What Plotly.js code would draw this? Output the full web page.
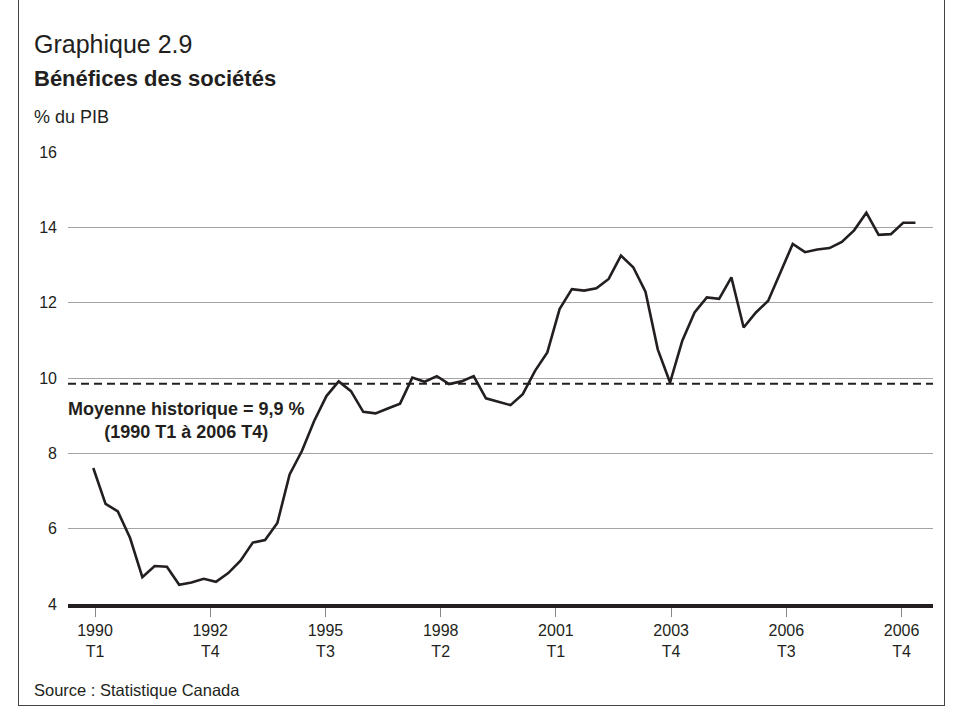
<!DOCTYPE html>
<html>
<head>
<meta charset="utf-8">
<script src="https://cdn.plot.ly/plotly-3.0.1.min.js"></script>
<style>
  html, body { margin: 0; padding: 0; background: #fff; }
  #frame { position: absolute; left: 18px; top: -2px; width: 927px; height: 708px; border: 1px solid #444; box-sizing: border-box; }
  #chart { position: absolute; left: 0; top: 0; width: 964px; height: 718px; }
</style>
</head>
<body>
<div id="frame"></div>
<div id="chart"></div>
<script>
// Corporate profits, % of GDP, quarterly, 1990 T1 onward
const values = [7.61, 6.66, 6.46, 5.75, 4.71, 5.01, 4.99, 4.51, 4.57, 4.67, 4.59, 4.82,
  5.15, 5.63, 5.70, 6.15, 7.44, 8.06, 8.86, 9.52, 9.91, 9.65, 9.10, 9.06,
  9.19, 9.32, 10.01, 9.90, 10.05, 9.84, 9.91, 10.05, 9.46, 9.37, 9.28,
  9.57, 10.19, 10.68, 11.83, 12.36, 12.32, 12.38, 12.63, 13.25, 12.94, 12.29,
  10.76, 9.88, 10.99, 11.74, 12.14, 12.10, 12.67, 11.34, 11.74, 12.05, 12.81, 13.56,
  13.34, 13.41, 13.45, 13.61, 13.92, 14.39, 13.80, 13.82, 14.12, 14.12];
const quarterIndex = values.map((_, i) => i);
const historicalAverage = 9.85;
const tickLabels = ["1990<br>T1", "1992<br>T4", "1995<br>T3", "1998<br>T2",
  "2001<br>T1", "2003<br>T4", "2006<br>T3", "2006<br>T4"];
const yTicks = [4, 6, 8, 10, 12, 14, 16];

const tickStart = 0.14, tickStep = 9.39;
const tickVals = tickLabels.map((_, k) => tickStart + k * tickStep);

const font = "'Liberation Sans', Arial, Helvetica, sans-serif";

const traces = [
  {
    x: quarterIndex, y: values, type: 'scatter', mode: 'lines',
    line: { color: '#231f20', width: 2.6 }, hoverinfo: 'skip', showlegend: false
  }
];

const W = 964, H = 718, L = 68, R = 31, T = 152, B = 114;
const pw = W - L - R, ph = H - T - B;
const px2x = px => (px - L) / pw;
const py2y = py => (H - B - py) / ph;

const layout = {
  width: W, height: H,
  margin: { l: L, r: R, t: T, b: B, pad: 0 },
  paper_bgcolor: 'rgba(0,0,0,0)', plot_bgcolor: 'rgba(0,0,0,0)',
  font: { family: font, color: '#231f20', size: 16 },
  showlegend: false,
  xaxis: {
    range: [-2.06, 68.43], showgrid: false, zeroline: false,
    showline: true, linecolor: '#231f20', linewidth: 4,
    tickmode: 'array', tickvals: tickVals, ticktext: tickLabels,
    ticks: 'outside', ticklen: 9, tickcolor: '#888', tickwidth: 1,
    tickfont: { size: 16, family: font, color: '#231f20' }, fixedrange: true
  },
  yaxis: {
    range: [4, 16], tickvals: yTicks, showgrid: true, gridcolor: '#a3a3a3', gridwidth: 1,
    zeroline: false, showline: false, ticks: '', ticklabelstandoff: 10,
    tickfont: { size: 16, family: font, color: '#231f20' }, fixedrange: true
  },
  shapes: [
    { type: 'line', xref: 'paper', yref: 'y', x0: 0, x1: 1, y0: historicalAverage, y1: historicalAverage,
      line: { color: '#231f20', width: 2, dash: '8px,5px' } }
  ],
  annotations: [
    { text: 'Graphique 2.9', xref: 'paper', yref: 'paper', x: px2x(32), y: py2y(44),
      xanchor: 'left', yanchor: 'middle', showarrow: false, font: { size: 25, family: font, color: '#231f20' } },
    { text: '<b>Bénéfices des sociétés</b>', xref: 'paper', yref: 'paper', x: px2x(32), y: py2y(79),
      xanchor: 'left', yanchor: 'middle', showarrow: false, font: { size: 22, family: font, color: '#231f20' } },
    { text: '% du PIB', xref: 'paper', yref: 'paper', x: px2x(32), y: py2y(117),
      xanchor: 'left', yanchor: 'middle', showarrow: false, font: { size: 18, family: font, color: '#231f20' } },
    { text: 'Source : Statistique Canada', xref: 'paper', yref: 'paper', x: px2x(32), y: py2y(690),
      xanchor: 'left', yanchor: 'middle', showarrow: false, font: { size: 16.5, family: font, color: '#231f20' } },
    { text: '<b>Moyenne historique = 9,9 %<br>(1990 T1 à 2006 T4)</b>', xref: 'x', yref: 'y', x: 7.58, y: 8.86,
      xanchor: 'center', yanchor: 'middle', align: 'center', showarrow: false,
      font: { size: 18, family: font, color: '#231f20' } }
  ]
};

Plotly.newPlot('chart', traces, layout, { displayModeBar: false, staticPlot: true });
</script>
</body>
</html>
